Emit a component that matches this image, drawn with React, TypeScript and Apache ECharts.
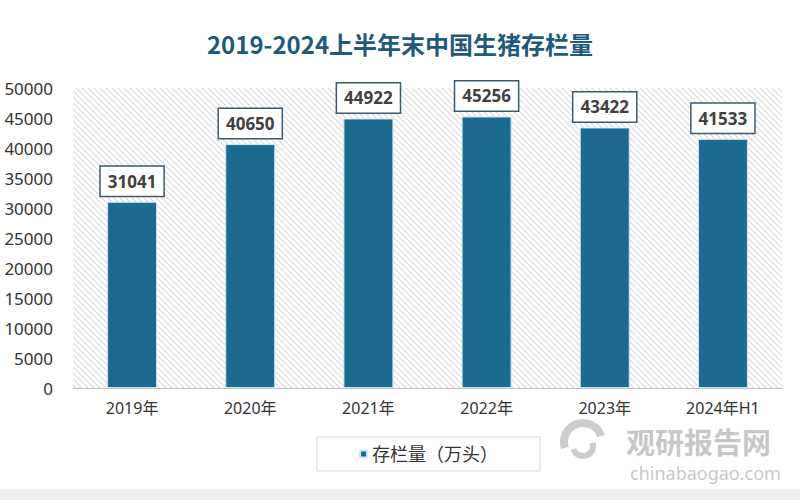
import React, { useEffect, useRef } from "react";
import * as echarts from "echarts";

const categories = ["2019年", "2020年", "2021年", "2022年", "2023年", "2024年H1"];
const stockValues = [31041, 40650, 44922, 45256, 43422, 41533];
const seriesName = "存栏量（万头）";
const titleText = "2019-2024上半年末中国生猪存栏量";
const watermarkCn = "观研报告网";
const watermarkEn = "chinabaogao.com";

function makeHatch() {
  const size = 6;
  const c = document.createElement("canvas");
  c.width = size;
  c.height = size;
  const ctx = c.getContext("2d")!;
  ctx.fillStyle = "#ffffff";
  ctx.fillRect(0, 0, size, size);
  ctx.strokeStyle = "#d9d9d9";
  ctx.lineWidth = 1.1;
  ctx.beginPath();
  ctx.moveTo(-1, -1);
  ctx.lineTo(size + 1, size + 1);
  ctx.moveTo(-1, size - 1);
  ctx.lineTo(1, size + 1);
  ctx.moveTo(size - 1, -1);
  ctx.lineTo(size + 1, 1);
  ctx.stroke();
  return c.toDataURL();
}

export default function App() {
  const ref = useRef<HTMLDivElement>(null);
  useEffect(() => {
    if (!ref.current) return;
    const chart = echarts.init(ref.current, null, { renderer: "svg" });
    const hatch = makeHatch();
    const font = "'Noto Sans', 'Noto Sans CJK SC', sans-serif";
    chart.setOption({
      animation: false,
      backgroundColor: "#ffffff",
      title: {
        text: titleText,
        left: "center",
        top: 26,
        textStyle: {
          fontSize: 24,
          fontWeight: "bold",
          color: "#1f5a7c",
          fontFamily: "'Noto Sans CJK SC', 'Noto Sans', sans-serif",
        },
      },
      grid: {
        left: 73,
        right: 18,
        top: 88,
        bottom: 112,
        containLabel: false,
        show: true,
        borderWidth: 0,
        backgroundColor: {
          image: hatch,
          repeat: "repeat",
          imageWidth: 6,
          imageHeight: 6,
        },
      },
      legend: {
        data: [seriesName],
        left: 317,
        top: 437,
        width: 228,
        itemWidth: 7,
        itemHeight: 7,
        itemGap: 5,
        icon: "rect",
        borderColor: "#d6d6d6",
        borderWidth: 1,
        padding: [8, 42, 8, 42],
        textStyle: { fontSize: 18, color: "#333", fontFamily: font },
      },
      xAxis: {
        type: "category",
        data: categories,
        axisTick: { show: false },
        axisLine: { lineStyle: { color: "#bfbfbf", width: 1 } },
        axisLabel: {
          fontSize: 16,
          lineHeight: 16,
          color: "#333",
          margin: 12,
          fontFamily: font,
        },
      },
      yAxis: {
        type: "value",
        min: 0,
        max: 50000,
        interval: 5000,
        axisLine: { show: false },
        axisTick: { show: false },
        splitLine: { show: false },
        axisLabel: {
          fontSize: 17,
          color: "#333",
          margin: 20,
          fontFamily: font,
          formatter: (v: number) => String(v),
        },
      },
      series: [
        {
          name: seriesName,
          type: "bar",
          data: stockValues,
          barWidth: 50,
          itemStyle: {
            color: "#1c6a8f",
            borderColor: "#cdeaf5",
            borderWidth: 1,
          },
          label: {
            show: true,
            position: "top",
            distance: 6,
            backgroundColor: "#ffffff",
            borderColor: "#3a5b6c",
            borderWidth: 1.5,
            padding: [6, 7, 6, 7],
            fontSize: 17,
            fontWeight: "bold",
            color: "#404040",
            fontFamily: font,
          },
        },
      ],
      graphic: [
        {
          type: "rect",
          left: 0,
          top: 489,
          shape: { width: 800, height: 11 },
          style: { fill: "#f0f0f0" },
          z: 1,
        },
        {
          type: "arc",
          shape: { cx: 583, cy: 442, r: 19, startAngle: Math.PI * 0.9, endAngle: Math.PI * 1.9 },
          style: { stroke: "#cccccc", lineWidth: 8, fill: "none" },
          z: 100,
        },
        {
          type: "arc",
          shape: { cx: 583, cy: 446, r: 10, startAngle: -Math.PI * 0.1, endAngle: Math.PI * 0.9 },
          style: { stroke: "#cccccc", lineWidth: 6, fill: "none" },
          z: 100,
        },
        {
          type: "text",
          left: 626,
          top: 426,
          style: {
            text: watermarkCn,
            fontSize: 29,
            lineHeight: 29,
            fontWeight: "bold",
            fill: "rgba(150,150,150,0.55)",
            fontFamily: "'Noto Sans CJK SC', sans-serif",
          },
          z: 100,
        },
        {
          type: "text",
          left: 630,
          top: 464,
          style: {
            text: watermarkEn,
            fontSize: 18,
            lineHeight: 18,
            fill: "rgba(160,160,160,0.6)",
            fontFamily: "'Noto Sans', sans-serif",
          },
          z: 100,
        },
      ],
    });
    return () => chart.dispose();
  }, []);
  return (
    <div
      ref={ref}
      style={{ position: "fixed", left: 0, top: 0, width: 800, height: 500 }}
    />
  );
}
